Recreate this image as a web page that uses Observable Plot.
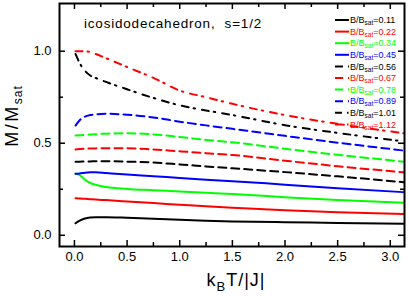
<!DOCTYPE html>
<html><head><meta charset="utf-8">
<script src="https://cdn.jsdelivr.net/npm/d3@7"></script>
<script src="https://cdn.jsdelivr.net/npm/@observablehq/plot@0.6"></script>
<style>body{margin:0;background:#fff} svg{display:block}</style>
</head><body><div id="chart"></div>
<script>
// temperature grid k_B T/|J|
const temps = [0.01, 0.05, 0.1, 0.15, 0.2, 0.3, 0.5, 0.75, 1.0, 1.25, 1.5, 2.0, 2.5, 3.13];
// B/B_sat values of the series
const fields = ["0.11", "0.22", "0.34", "0.45", "0.56", "0.67", "0.78", "0.89", "1.01", "1.12"];
const colors = ["#000000", "#ff0000", "#00ff00", "#0000ff", "#000000", "#ff0000", "#00ff00", "#0000ff", "#000000", "#ff0000"];
const lineKinds = ["solid", "solid", "solid", "solid", "dash", "dash", "dash", "dash", "dashdot", "dashdot"];
// M/M_sat for each field
const m011 = [0.065, 0.080, 0.091, 0.096, 0.098, 0.098, 0.095, 0.090, 0.084, 0.079, 0.075, 0.071, 0.067, 0.062];
const m022 = [0.201, 0.200, 0.198, 0.196, 0.194, 0.191, 0.184, 0.175, 0.166, 0.157, 0.150, 0.136, 0.125, 0.116];
const m034 = [0.334, 0.327, 0.302, 0.284, 0.274, 0.262, 0.252, 0.245, 0.238, 0.231, 0.224, 0.207, 0.191, 0.176];
const m045 = [0.334, 0.336, 0.340, 0.342, 0.342, 0.338, 0.330, 0.321, 0.311, 0.302, 0.294, 0.275, 0.256, 0.234];
const m056 = [0.400, 0.400, 0.401, 0.401, 0.402, 0.402, 0.400, 0.395, 0.385, 0.374, 0.364, 0.343, 0.320, 0.288];
const m067 = [0.466, 0.468, 0.470, 0.471, 0.472, 0.473, 0.473, 0.466, 0.456, 0.446, 0.436, 0.405, 0.375, 0.342];
const m078 = [0.542, 0.543, 0.545, 0.547, 0.549, 0.552, 0.554, 0.548, 0.534, 0.518, 0.505, 0.470, 0.437, 0.400];
const m089 = [0.596, 0.625, 0.645, 0.653, 0.657, 0.660, 0.655, 0.640, 0.617, 0.597, 0.578, 0.540, 0.503, 0.460];
const m101 = [0.985, 0.935, 0.893, 0.868, 0.855, 0.833, 0.793, 0.746, 0.706, 0.678, 0.653, 0.598, 0.556, 0.510];
const m112 = [1.000, 1.000, 0.999, 0.995, 0.985, 0.962, 0.914, 0.855, 0.786, 0.750, 0.714, 0.653, 0.605, 0.554];
const series = [m011, m022, m034, m045, m056, m067, m078, m089, m101, m112];
// ticks
const xMajor = [0, 0.5, 1.0, 1.5, 2.0, 2.5, 3.0];
const xMinor = [0.25, 0.75, 1.25, 1.75, 2.25, 2.75];
const yMajor = [0, 0.5, 1.0];
const yMinor = [0.25, 0.75];
const titleText = "icosidodecahedron,  s=1/2";

const W = 409, H = 297;
const mL = 59, mR = 5, mT = 3, mB = 51;
const fw = W - mL - mR, fh = H - mT - mB;
const dashOf = {solid: null, dash: "8,5", dashdot: "7,5,1.5,7"};

const lineMarks = series.map((vals, i) => {
  const data = temps.map((t, j) => ({t, m: vals[j]}));
  return Plot.line(data, {x: "t", y: "m", stroke: colors[i], strokeWidth: 2,
    strokeDasharray: dashOf[lineKinds[i]], curve: "monotone-x", clip: true});
});

const tk = () => ({stroke: "black", strokeWidth: 1.5});
const chart = Plot.plot({
  width: W, height: H,
  marginLeft: mL, marginRight: mR, marginTop: mT, marginBottom: mB,
  style: {fontFamily: "Liberation Sans, Arial, sans-serif", fontSize: "13px", color: "black", background: "white"},
  x: {domain: [-0.142, 3.135]},
  y: {domain: [-0.061, 1.259]},
  marks: [
    ...lineMarks,
    Plot.axisX(xMajor, {tickSize: 0, tickPadding: 5, tickFormat: d3.format(".1f"), label: null, fontSize: 13}),
    Plot.axisY(yMajor, {tickSize: 0, tickPadding: 8, tickFormat: d3.format(".1f"), label: null, fontSize: 13}),
    Plot.tickX(xMajor, {x: d => d, insetTop: fh - 6, ...tk()}),
    Plot.tickX(xMinor, {x: d => d, insetTop: fh - 4, ...tk()}),
    Plot.tickX(xMajor, {x: d => d, insetBottom: fh - 6, ...tk()}),
    Plot.tickX(xMinor, {x: d => d, insetBottom: fh - 4, ...tk()}),
    Plot.tickY(yMajor, {y: d => d, insetRight: fw - 6, ...tk()}),
    Plot.tickY(yMinor, {y: d => d, insetRight: fw - 4, ...tk()}),
    Plot.tickY(yMajor, {y: d => d, insetLeft: fw - 6, ...tk()}),
    Plot.tickY(yMinor, {y: d => d, insetLeft: fw - 4, ...tk()}),
    Plot.frame({stroke: "black", strokeWidth: 2})
  ]
});
document.getElementById("chart").appendChild(chart);

const svg = d3.select(chart);
const ff = "Liberation Sans, Arial, sans-serif";
// title
svg.append("text").attr("x", 84).attr("y", 28).attr("text-anchor", "start").attr("font-family", ff).attr("font-size", 13.5)
  .attr("letter-spacing", 0.8).style("white-space", "pre").attr("fill", "black").text(titleText);
// y label
const yl = svg.append("text").attr("transform", "translate(18,116) rotate(-90)")
  .attr("text-anchor", "middle").attr("font-family", ff).attr("font-size", 18).attr("letter-spacing", 2.5).attr("fill", "black");
yl.append("tspan").text("M/M");
yl.append("tspan").attr("font-size", 12).attr("dy", 4).attr("letter-spacing", 1).text("sat");
// x label
const xl = svg.append("text").attr("x", 236).attr("y", 286).attr("text-anchor", "middle")
  .attr("font-family", ff).attr("font-size", 18).attr("letter-spacing", 1).attr("fill", "black");
xl.append("tspan").text("k");
xl.append("tspan").attr("font-size", 13).attr("dy", 5).text("B");
xl.append("tspan").attr("dy", -5).text("T/|J|");
// legend
const lg = svg.append("g").attr("text-anchor", "start");
fields.forEach((f, i) => {
  const y = 20 + i * 11.6;
  lg.append("line").attr("x1", 335).attr("x2", 349).attr("y1", y).attr("y2", y)
    .attr("stroke", colors[i]).attr("stroke-width", 2)
    .attr("stroke-dasharray", dashOf[lineKinds[i]]);
  const t = lg.append("text").attr("x", 350).attr("y", y + 3.2).attr("text-anchor", "start").attr("font-family", ff)
    .attr("font-size", 9).attr("fill", colors[i]);
  t.append("tspan").text("B/B");
  t.append("tspan").attr("font-size", 6.5).attr("dy", 2).text("sat");
  t.append("tspan").attr("dy", -2).text("=" + f);
});
</script></body></html>
